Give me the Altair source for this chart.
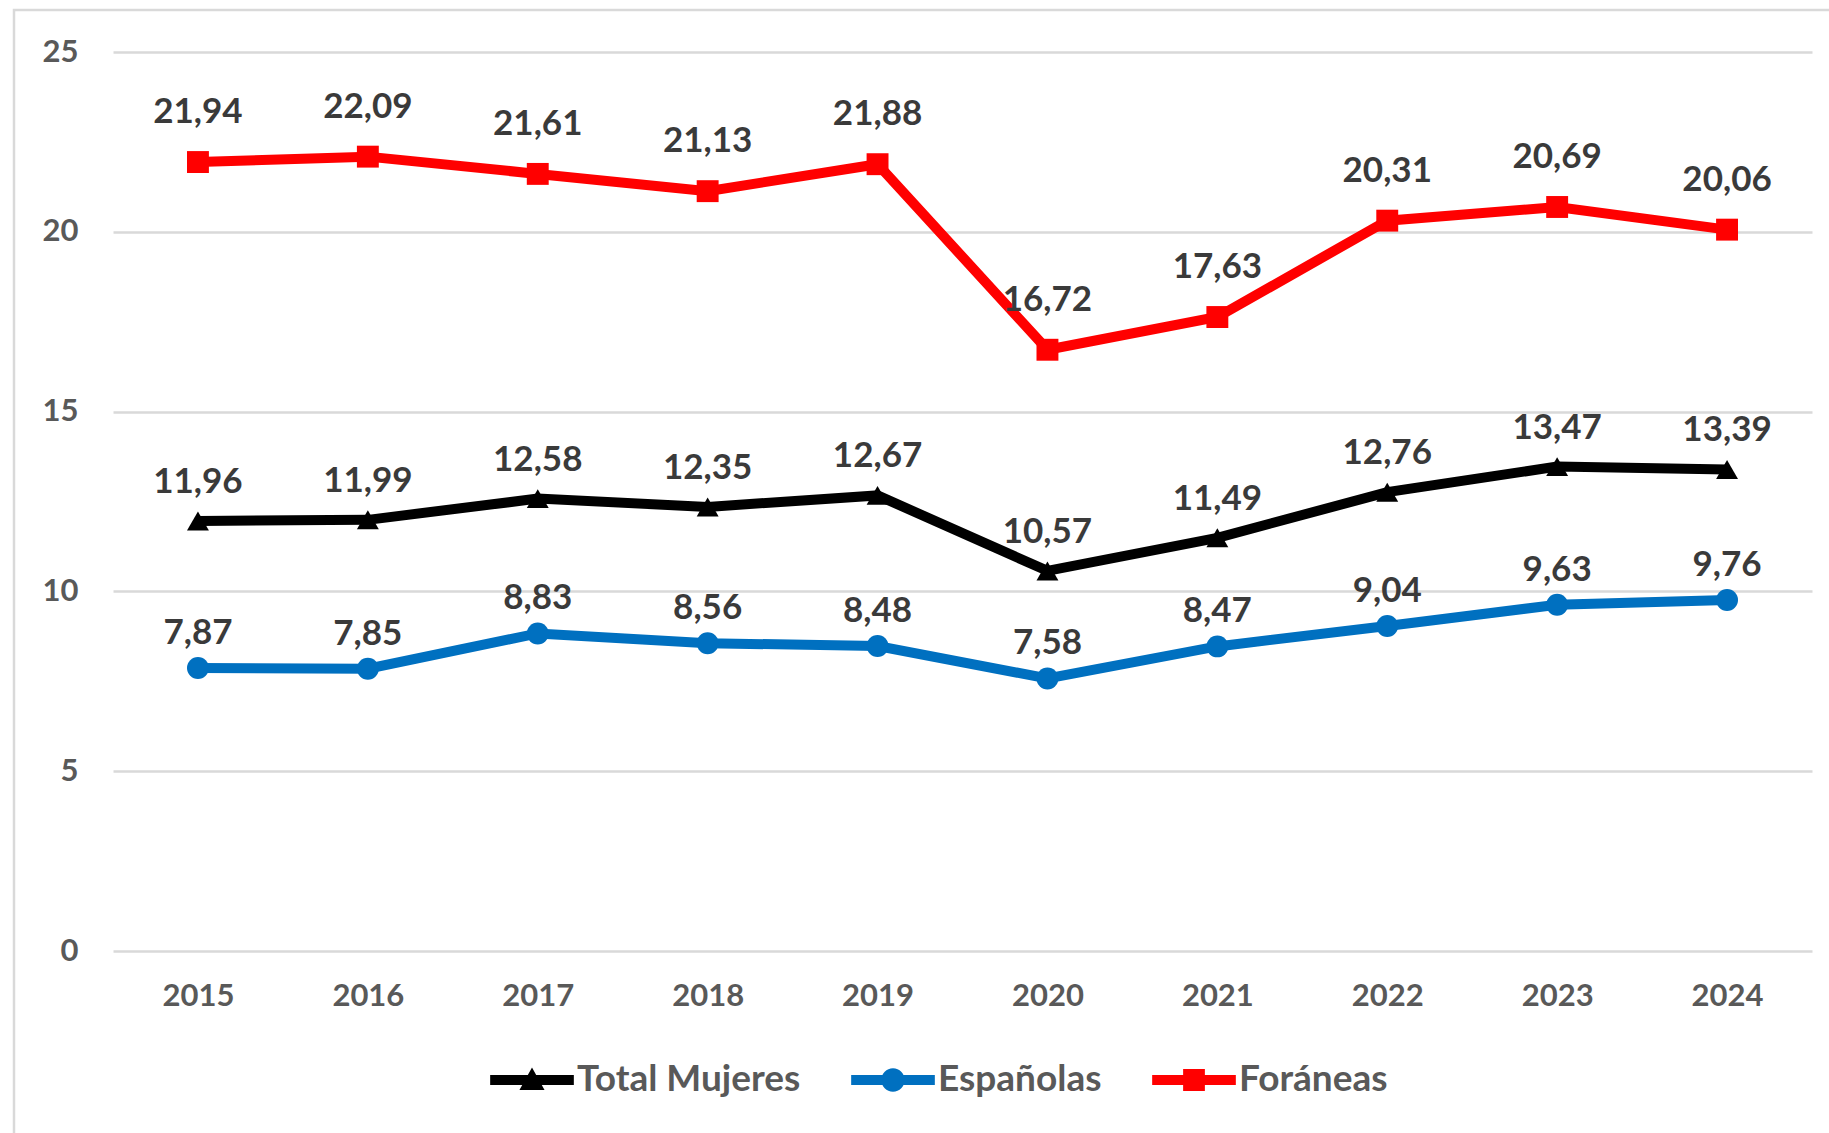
import altair as alt
import pandas as pd

years = ["2015", "2016", "2017", "2018", "2019", "2020", "2021", "2022", "2023", "2024"]
series = ["Total Mujeres", "Españolas", "Foráneas"]
total = [11.96, 11.99, 12.58, 12.35, 12.67, 10.57, 11.49, 12.76, 13.47, 13.39]
espanolas = [7.87, 7.85, 8.83, 8.56, 8.48, 7.58, 8.47, 9.04, 9.63, 9.76]
foraneas = [21.94, 22.09, 21.61, 21.13, 21.88, 16.72, 17.63, 20.31, 20.69, 20.06]
y_ticks = [0, 5, 10, 15, 20, 25]

colors = ["#000000", "#0070C0", "#FF0000"]
shapes = ["triangle-up", "circle", "square"]
# legend symbols: line + marker (unit coordinates)
bar = "M-1,-0.12 H1 V0.12 H-1 Z "
legend_paths = [
    bar + "M0,-0.3 L0.3,0.24 L-0.3,0.24 Z",
    bar + "M-0.28,0 A0.28,0.28 0 1,1 0.28,0 A0.28,0.28 0 1,1 -0.28,0 Z",
    bar + "M-0.26,-0.26 H0.26 V0.26 H-0.26 Z",
]
label_dy = {"Total Mujeres": -39, "Españolas": -35, "Foráneas": -50}

rows = []
for s, vals in zip(series, [total, espanolas, foraneas]):
    for yr, v in zip(years, vals):
        rows.append({"year": yr, "serie": s, "valor": v,
                     "etiqueta": f"{v:.2f}".replace(".", ",")})
df = pd.DataFrame(rows)

FONT = "Lato"
W, H = 1699, 899

x_enc = alt.X("year:N", sort=years, scale=alt.Scale(type="point", padding=0.5),
              axis=alt.Axis(title=None, labelAngle=0, domain=False, ticks=False, grid=False,
                            labelFont=FONT, labelFontSize=31, labelFontWeight="bold",
                            labelColor="#595959", labelPadding=30))
y_enc = alt.Y("valor:Q", scale=alt.Scale(domain=[0, 25], nice=False),
              axis=alt.Axis(title=None, values=y_ticks, domain=False, ticks=False,
                            grid=True, gridColor="#d9d9d9", gridWidth=2.5,
                            labelFont=FONT, labelFontSize=31, labelFontWeight="bold",
                            labelColor="#595959", labelPadding=35))

color_scale = alt.Scale(domain=series, range=colors)

frame = alt.Chart(alt.Data(values=[{"a": 1}])).mark_rect(
    fillOpacity=0, stroke="#d9d9d9", strokeWidth=2.5
).encode(x=alt.value(-99), x2=alt.value(1760), y=alt.value(-42), y2=alt.value(1150))

base = alt.Chart(df)

lines = base.mark_line(strokeWidth=10).encode(
    x=x_enc, y=y_enc,
    color=alt.Color("serie:N", scale=color_scale, legend=None),
    detail="serie:N",
)

points = base.mark_point(filled=True, opacity=1, size=480).encode(
    x="year:N", y="valor:Q",
    color=alt.Color("serie:N", scale=color_scale, legend=None),
    shape=alt.Shape("serie:N", scale=alt.Scale(domain=series, range=shapes), legend=None),
)

texts = []
for s in series:
    texts.append(
        base.transform_filter(alt.datum.serie == s).mark_text(
            dy=label_dy[s], fontSize=35, font=FONT, fontWeight="bold", color="#3a3a3a",
            baseline="middle", align="center"
        ).encode(x="year:N", y="valor:Q", text="etiqueta:N")
    )

leg = alt.Legend(title=None, orient="none", direction="horizontal", legendX=377, legendY=986,
                 symbolSize=7000, symbolStrokeWidth=0, symbolOpacity=1,
                 labelFont=FONT, labelFontSize=37, labelFontWeight="bold", labelLimit=0,
                 labelColor="#595959", labelOffset=3, columnPadding=50)

legend_layer = base.transform_filter("false").mark_point(filled=True, opacity=1, size=7000).encode(
    color=alt.Color("serie:N", scale=color_scale, legend=leg),
    shape=alt.Shape("serie:N", scale=alt.Scale(domain=series, range=legend_paths), legend=leg),
)

chart = alt.layer(frame, lines, points, *texts, legend_layer).resolve_scale(
    color="independent", shape="independent"
).properties(
    width=W, height=H,
    padding={"left": 113, "top": 52, "right": 17, "bottom": 182},
    autosize=alt.AutoSizeParams(type="none"),
    background="white",
).configure_view(stroke=None)

chart.save("out.html", embed_options={"renderer": "svg", "actions": False})
